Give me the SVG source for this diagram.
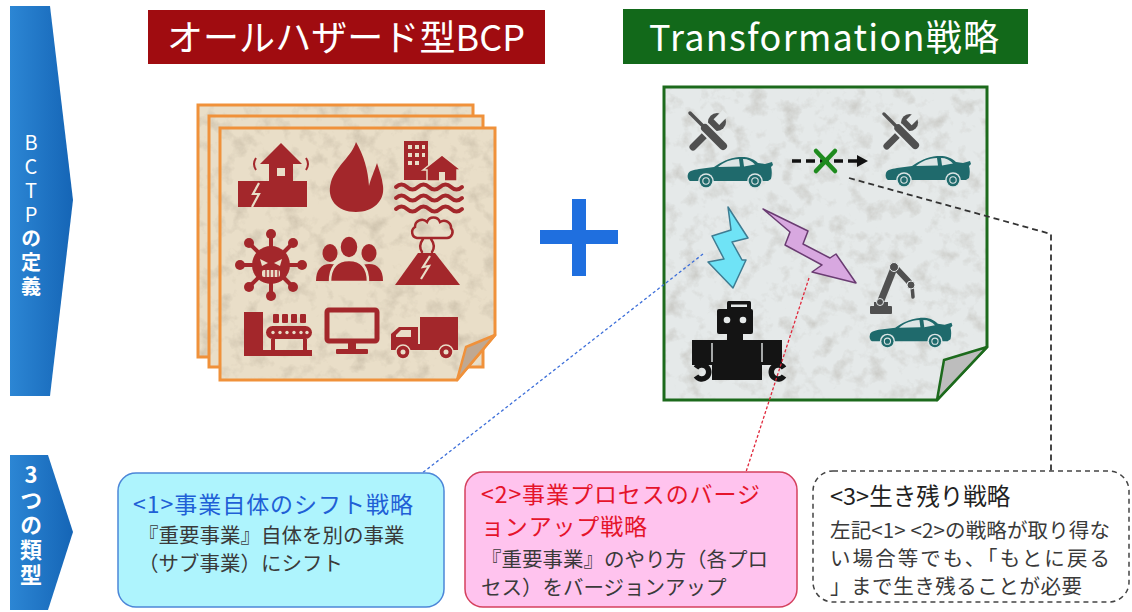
<svg xmlns="http://www.w3.org/2000/svg" width="1132" height="612" viewBox="0 0 1132 612">
<defs>
<style>
.jp{font-family:"Noto Sans CJK JP","Noto Sans",sans-serif}
.ttl{fill:#fff;font-size:36px}
.vert{fill:#fff;writing-mode:vertical-rl;text-orientation:upright}
.hz{fill:#A3272B}
.hzs{fill:none;stroke:#A3272B}
.pcut{fill:#E9DEC8}
.pcs{fill:none;stroke:#E9DEC8}
.gr{fill:#505050}
.gcut{fill:#E5E9E9}
.teal{fill:#1F6A6C}
.edgeO{fill:none;stroke:#F0913A;stroke-width:3}
.edgeG{fill:none;stroke:#1C6A1C;stroke-width:3}
.body{font-size:20.5px;fill:#3A3A3A}
</style>
<linearGradient id="blueArrow" x1="0" y1="0" x2="1" y2="0">
<stop offset="0" stop-color="#2C86D4"/><stop offset="1" stop-color="#1565B6"/>
</linearGradient>
<filter id="grain" x="0%" y="0%" width="100%" height="100%" color-interpolation-filters="sRGB">
<feTurbulence type="fractalNoise" baseFrequency="0.06" numOctaves="4" seed="7" result="n"/>
<feColorMatrix in="n" type="matrix" values="0 0 0 0 0.45  0 0 0 0 0.4  0 0 0 0 0.33  0.55 0 0 0 -0.27" result="spots"/>
<feComposite in="spots" in2="SourceGraphic" operator="in" result="clip"/>
<feMerge><feMergeNode in="SourceGraphic"/><feMergeNode in="clip"/></feMerge>
</filter>
<!-- sports car silhouette, front to the left -->
<g id="car">
<path class="teal" d="M3,26 C1,25 0,22 1,19 C2,16 6,15 12,14 L27,12 C34,7 42,3 52,2 C60,1.5 66,3 71,8 L78,9 L85,7 L86,10 L84,12 C85,15 85,20 84,24 L81,26 Z"/>
<path fill="#DCE5E5" d="M31,12 C37,7 43,4.5 52,4 L53,11.5 Z M56,4 C61,4 65,6 68,9.5 L57,11.5 Z"/>
<circle cx="19" cy="26" r="7.8" fill="#DCE5E5"/><circle cx="19" cy="26" r="6.3" class="teal"/><circle cx="19" cy="26" r="3.2" fill="none" stroke="#DCE5E5" stroke-width="1.1"/>
<circle cx="68" cy="26" r="7.8" fill="#DCE5E5"/><circle cx="68" cy="26" r="6.3" class="teal"/><circle cx="68" cy="26" r="3.2" fill="none" stroke="#DCE5E5" stroke-width="1.1"/>
</g>
<!-- crossed wrench and screwdriver -->
<g id="tools" stroke-linecap="round">
<line x1="5" y1="36" x2="24" y2="17" stroke="#505050" stroke-width="7"/>
<circle cx="29" cy="11" r="9" class="gr"/>
<rect x="29" y="0" width="8" height="13" class="gcut" transform="rotate(45 33 6.5)"/>
<line x1="17" y1="17" x2="35" y2="35" stroke="#E5E9E9" stroke-width="12"/>
<line x1="2" y1="2" x2="15" y2="15" stroke="#505050" stroke-width="3.5"/>
<line x1="17" y1="17" x2="35" y2="35" stroke="#505050" stroke-width="8"/>
</g>
</defs>

<rect width="1132" height="612" fill="#fff"/>

<!-- side labels -->
<g id="label-definition">
<path d="M10,6 H50 L73,200 L50,396 H10 Z" fill="url(#blueArrow)"/>
<text class="jp vert" x="31" y="132" font-size="20" letter-spacing="4">BCTP<tspan font-weight="bold">の定義</tspan></text>
</g>
<g id="label-types">
<path d="M10,455 H48 L73,532 L48,610 H10 Z" fill="url(#blueArrow)"/>
<text class="jp vert" x="31" y="464" font-size="22" font-weight="bold" letter-spacing="3">3つの類型</text>
</g>

<!-- headings -->
<g id="heading-bcp">
<rect x="148" y="10" width="397" height="54" fill="#A00C10"/>
<text class="jp ttl" x="346" y="51" text-anchor="middle" textLength="358">オールハザード型BCP</text>
</g>
<g id="heading-transformation">
<rect x="623" y="9" width="405" height="55" fill="#12691A"/>
<text class="jp ttl" x="824" y="51" text-anchor="middle" textLength="350">Transformation戦略</text>
</g>

<!-- all-hazard BCP sheet stack -->
<g id="hazard-sheets">
<rect x="198" y="105" width="275" height="252" fill="#E9DEC8" filter="url(#grain)"/>
<rect x="198" y="105" width="275" height="252" class="edgeO"/>
<rect x="209" y="116" width="274" height="251" fill="#E9DEC8" filter="url(#grain)"/>
<rect x="209" y="116" width="274" height="251" class="edgeO"/>
<path d="M220,128 H495 V335 L457,380 H220 Z" fill="#E9DEC8" filter="url(#grain)"/>
<path d="M220,128 H495 V335 L457,380 H220 Z" class="edgeO"/>
<path d="M495,335 L457,380 L466,347 Z" fill="#BFA892" stroke="#F0913A" stroke-width="2.5" stroke-linejoin="round"/>

<!-- earthquake -->
<path class="hz" d="M238,181 H269 V164 H260 L281,143 L302,164 H293 V181 H307 V207 H238 Z"/>
<rect x="277" y="168" width="8" height="8" class="pcut"/>
<polyline points="259,183 253,194 259,194 252,207" class="pcs" stroke-width="2.2"/>
<path d="M256,158 q-4,6 0,12 M306,158 q4,6 0,12" class="hzs" stroke-width="2"/>
<!-- fire -->
<path class="hz" d="M356,142 C352,156 336,166 331,182 C326,199 337,212 356,212 C373,212 385,201 383,186 C382,177 379,170 377,163 C374,172 371,178 369,186 C368,170 364,156 356,142 Z"/>
<!-- flood -->
<rect x="404" y="141" width="24" height="39" class="hz"/>
<g class="pcut">
<rect x="408" y="145" width="4" height="4"/><rect x="415" y="145" width="4" height="4"/><rect x="422" y="145" width="3" height="4"/>
<rect x="408" y="153" width="4" height="4"/><rect x="415" y="153" width="4" height="4"/><rect x="422" y="153" width="3" height="4"/>
<rect x="408" y="161" width="4" height="4"/><rect x="415" y="161" width="4" height="4"/>
</g>
<path class="hz" d="M423,170 L442,155 L461,170 H457 V181 H427 V170 Z" stroke="#E9DEC8" stroke-width="1.5"/>
<rect x="439" y="172" width="6" height="9" class="pcut"/>
<path class="hzs" stroke-width="4" stroke-linecap="round" d="M396,187 q5.5,-5 11,0 t11,0 t11,0 t11,0 t11,0 t11,0 M396,198 q5.5,-5 11,0 t11,0 t11,0 t11,0 t11,0 t11,0 M396,209 q5.5,-5 11,0 t11,0 t11,0 t11,0 t11,0 t11,0"/>
<!-- virus -->
<g transform="translate(271,265)">
<g class="hzs" stroke-width="4">
<line x1="0" y1="-18" x2="0" y2="-29"/><line x1="0" y1="18" x2="0" y2="29"/>
<line x1="-18" y1="0" x2="-29" y2="0"/><line x1="18" y1="0" x2="29" y2="0"/>
<line x1="13" y1="13" x2="21" y2="21"/><line x1="-13" y1="13" x2="-21" y2="21"/>
<line x1="13" y1="-13" x2="21" y2="-21"/><line x1="-13" y1="-13" x2="-21" y2="-21"/>
</g>
<g class="hz">
<circle r="19"/>
<circle cy="-31" r="5"/><circle cy="31" r="5"/><circle cx="-31" r="5"/><circle cx="31" r="5"/>
<circle cx="22" cy="22" r="5"/><circle cx="-22" cy="22" r="5"/><circle cx="22" cy="-22" r="5"/><circle cx="-22" cy="-22" r="5"/>
</g>
<path class="pcut" d="M-11,-6 L-3,-2 L-9,1 Z M11,-6 L3,-2 L9,1 Z"/>
<rect x="-9" y="5" width="18" height="7" rx="2" class="pcut"/>
<path class="hzs" stroke-width="1.3" d="M-5,5 V12 M-1,5 V12 M3,5 V12 M7,5 V12"/>
</g>
<!-- people -->
<ellipse cx="330" cy="253" rx="7.5" ry="9" class="hz"/>
<path class="hz" d="M316,281 C316,270 321,264 330,264 C339,264 344,270 344,281 Z"/>
<ellipse cx="369" cy="253" rx="7.5" ry="9" class="hz"/>
<path class="hz" d="M355,281 C355,270 360,264 369,264 C378,264 383,270 383,281 Z"/>
<ellipse cx="349" cy="247" rx="9.5" ry="11.5" class="hz" stroke="#E9DEC8" stroke-width="2.5"/>
<path class="hz" d="M330,282 C330,267 337,260 349,260 C361,260 368,267 368,282 Z" stroke="#E9DEC8" stroke-width="2.5"/>
<!-- volcano -->
<path class="hz" d="M395,285 L418,253 H435 L460,285 Z"/>
<polyline points="430,256 423,267 429,266 421,279" class="pcs" stroke-width="2.2"/>
<path class="hzs" stroke-width="2.5" stroke-linecap="round" d="M422,252 q-4,-6 1,-13 M432,252 q4,-6 -1,-13 M417,238 a6,6 0 0 1 -2,-11 a7,7 0 0 1 12,-5 a7,7 0 0 1 13,0 a7,7 0 0 1 11,6 a6,6 0 0 1 -4,10 Z"/>
<!-- factory line -->
<rect x="244" y="312" width="19" height="44" class="hz"/>
<rect x="244" y="350" width="68" height="6" class="hz"/>
<rect x="271" y="339" width="4" height="12" class="hz"/><rect x="303" y="339" width="4" height="12" class="hz"/>
<rect x="266" y="326" width="46" height="13" rx="6.5" class="hz"/>
<g class="pcut"><circle cx="273" cy="332.5" r="1.7"/><circle cx="280" cy="332.5" r="1.7"/><circle cx="287" cy="332.5" r="1.7"/><circle cx="294" cy="332.5" r="1.7"/><circle cx="301" cy="332.5" r="1.7"/><circle cx="307" cy="332.5" r="1.7"/></g>
<rect x="273" y="314" width="6" height="9" rx="1" class="hz"/><rect x="282" y="314" width="6" height="9" rx="1" class="hz"/><rect x="291" y="314" width="6" height="9" rx="1" class="hz"/><rect x="300" y="314" width="6" height="9" rx="1" class="hz"/>
<!-- monitor -->
<rect x="327" y="310" width="50" height="31" rx="2" class="hzs" stroke-width="5"/>
<rect x="348" y="343" width="8" height="7" class="hz"/>
<rect x="336" y="349" width="32" height="5" rx="1" class="hz"/>
<!-- truck -->
<rect x="420" y="317" width="38" height="33" class="hz"/>
<path class="hz" d="M391,350 V334 L399,327 H418 V350 Z"/>
<path class="pcut" d="M396,335 L401,330 H411 V337 H396 Z"/>
<rect x="391" y="344" width="67" height="6" class="hz"/>
<circle cx="403" cy="352" r="7" class="hz" stroke="#E9DEC8" stroke-width="1.5"/><circle cx="403" cy="352" r="2.5" class="pcut"/>
<circle cx="446" cy="352" r="7" class="hz" stroke="#E9DEC8" stroke-width="1.5"/><circle cx="446" cy="352" r="2.5" class="pcut"/>
</g>

<!-- plus sign -->
<g id="plus" fill="#1F6FDF">
<rect x="540" y="230" width="78" height="14"/>
<rect x="572" y="199" width="14" height="77"/>
</g>

<!-- transformation sheet -->
<g id="transformation-sheet">
<path d="M664,87 H987 V347 L937,400 H664 Z" fill="#E5E9E9" filter="url(#grain)"/>
<path d="M664,87 H987 V347 L937,400 H664 Z" class="edgeG"/>
<path d="M987,347 L937,400 L944,360 Z" fill="#BDBDBD" stroke="#1C6A1C" stroke-width="2.5" stroke-linejoin="round"/>

<use href="#tools" transform="translate(688,111)"/>
<use href="#car" transform="translate(687,155)"/>
<use href="#tools" transform="translate(882,112) scale(0.95)"/>
<use href="#car" transform="translate(885,154)"/>

<line x1="792" y1="161" x2="859" y2="161" stroke="#111" stroke-width="3.5" stroke-dasharray="9,5"/>
<polygon points="857,155 868,161 857,167" fill="#111"/>
<path d="M816,151 L835,171 M835,151 L816,171" stroke="#1E8B1E" stroke-width="4.5" stroke-linecap="round"/>

<polygon points="728,207 748,238 732,242 742,260 746,260 733,288 708,262 724,259 712,236 731,230" fill="#6FE3F6" stroke="#3E7C92" stroke-width="1.5" stroke-linejoin="round"/>
<polygon points="763,209 808,231 803,244 830,258 836,254 856,283 812,272 822,265 785,245 790,232" fill="#D8A8E0" stroke="#6A3C72" stroke-width="1.5" stroke-linejoin="round"/>

<!-- robot -->
<g fill="#141414">
<rect x="727" y="301" width="24" height="9" rx="1.5"/>
<rect x="717" y="309" width="36" height="25" rx="2"/>
<rect x="727" y="333" width="16" height="8"/>
<rect x="712" y="340" width="50" height="40"/>
<rect x="692" y="340" width="20" height="25"/>
<rect x="762" y="340" width="20" height="25"/>
</g>
<rect x="731" y="304.5" width="16" height="2.5" class="gcut"/>
<circle cx="727" cy="320" r="3.3" class="gcut"/><circle cx="743" cy="320" r="3.3" class="gcut"/>
<path d="M712,343 V362 M762,343 V362" stroke="#E5E9E9" stroke-width="1.4"/>
<path d="M696,368 A7,7 0 1 1 696,376 M784,368 A7,7 0 1 0 784,376" fill="none" stroke="#141414" stroke-width="5.5"/>

<!-- robot arm -->
<rect x="870" y="306" width="22" height="8" rx="1" class="gr"/>
<rect x="874" y="302" width="14" height="5" class="gr"/>
<g stroke="#505050" stroke-linecap="round">
<line x1="880" y1="303" x2="894" y2="268" stroke-width="7"/>
<line x1="895" y1="267" x2="911" y2="284" stroke-width="6"/>
<line x1="912" y1="286" x2="913" y2="297" stroke-width="3.5"/>
</g>
<circle cx="880" cy="302" r="3.5" class="gr" stroke="#E5E9E9" stroke-width="1"/>
<circle cx="894" cy="267" r="4.5" class="gr" stroke="#E5E9E9" stroke-width="1"/>
<circle cx="911" cy="285" r="4" class="gr" stroke="#E5E9E9" stroke-width="1"/>

<use href="#car" transform="translate(869,316) scale(0.97)"/>
</g>

<!-- connectors -->
<g id="connectors" fill="none">
<path d="M703,254 L421,474" stroke="#3D6FD9" stroke-width="1.3" stroke-dasharray="3,2.5"/>
<path d="M809,278 L746,472" stroke="#E0283C" stroke-width="1.3" stroke-dasharray="3,2"/>
<path d="M849,178 L1051,234 L1051,471" stroke="#333" stroke-width="1.8" stroke-dasharray="6,4"/>
</g>

<!-- strategy boxes -->
<g id="strategy-shift">
<rect x="118" y="473" width="326" height="134" rx="18" fill="#AEF4FD" stroke="#4C86D8" stroke-width="1.5"/>
<text class="jp" x="133" y="513" font-size="23" fill="#1F60D6" textLength="280">&lt;1&gt;事業自体のシフト戦略</text>
<text class="jp body" x="138" y="543">『重要事業』自体を別の事業</text>
<text class="jp body" x="138" y="571">（サブ事業）にシフト</text>
</g>
<g id="strategy-upgrade">
<rect x="465" y="472" width="332" height="135" rx="18" fill="#FFC3EE" stroke="#D5405E" stroke-width="1.5"/>
<text class="jp" x="481" y="503" font-size="23" fill="#E5142B" textLength="279">&lt;2&gt;事業プロセスのバージ</text>
<text class="jp" x="481" y="535" font-size="23" fill="#E5142B" textLength="166">ョンアップ戦略</text>
<text class="jp body" x="481" y="567">『重要事業』のやり方（各プロ</text>
<text class="jp body" x="481" y="595">セス）をバージョンアップ</text>
</g>
<g id="strategy-survive">
<rect x="813" y="471" width="316" height="131" rx="20" fill="#fff" stroke="#444" stroke-width="1.5" stroke-dasharray="5,4"/>
<text class="jp" x="830" y="505" font-size="23.5" fill="#222">&lt;3&gt;生き残り戦略</text>
<text class="jp body" x="830" y="538" textLength="280">左記&lt;1&gt; &lt;2&gt;の戦略が取り得な</text>
<text class="jp body" x="830" y="566" textLength="280">い場合等でも、「もとに戻る</text>
<text class="jp body" x="830" y="594" textLength="252">」まで生き残ることが必要</text>
</g>
</svg>
